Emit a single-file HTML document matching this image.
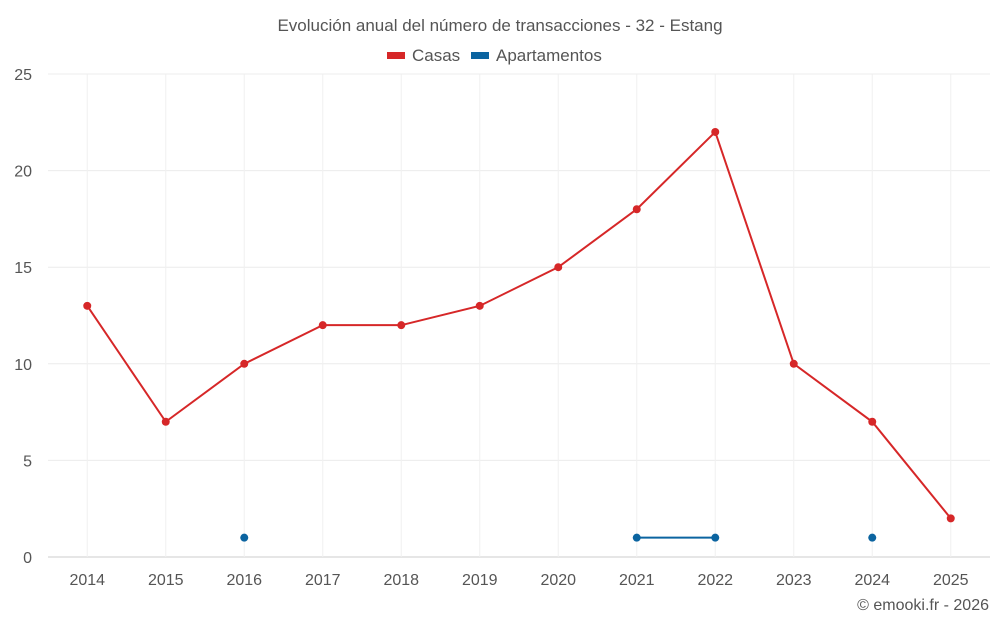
<!DOCTYPE html>
<html><head><meta charset="utf-8"><style>
html,body{margin:0;padding:0;background:#fff;}
svg text{font-family:"Liberation Sans",sans-serif;}
</style></head><body>
<svg id="chart" width="1000" height="625" viewBox="0 0 1000 625">
<text x="500" y="31" text-anchor="middle" font-size="17" fill="#555">Evolución anual del número de transacciones - 32 - Estang</text>
<g>
<g><rect x="387" y="52" width="18" height="7" fill="#d62728"/><text x="412" y="61" font-size="17" fill="#555">Casas</text></g>
<g><rect x="471" y="52" width="18" height="7" fill="#0b64a0"/><text x="496" y="61" font-size="17" fill="#555">Apartamentos</text></g>
</g>
<g id="grid"></g>
<g id="axes"></g>
<g id="series"></g>
<text x="989" y="610" text-anchor="end" font-size="16" fill="#555">© emooki.fr - 2026</text>
</svg>
<script>
const years=["2014","2015","2016","2017","2018","2019","2020","2021","2022","2023","2024","2025"];
const casas=[13,7,10,12,12,13,15,18,22,10,7,2];
const apartamentos=[null,null,1,null,null,null,null,1,1,null,1,null];
const yTicks=[0,5,10,15,20,25];
const NS="http://www.w3.org/2000/svg";
const L=48,R=990,T=74,B=557,yMax=25;
const bw=(R-L)/years.length;
function x(i){return L+bw*(i+0.5);}
function y(v){return B-(v/yMax)*(B-T);}
function mk(tag,attrs,parent){const e=document.createElementNS(NS,tag);for(const k in attrs)e.setAttribute(k,attrs[k]);parent.appendChild(e);return e;}
const grid=document.getElementById('grid'),axes=document.getElementById('axes'),ser=document.getElementById('series');
yTicks.forEach(t=>{
 const l=mk('line',{x1:L,x2:R,y1:y(t),y2:y(t),stroke:t===0?'#ccc':'#ececec','stroke-width':1},grid);
 
 
 const tx=mk('text',{x:32,y:y(t)+6,'text-anchor':'end','font-size':16,fill:'#555'},axes);
 tx.textContent=t;
 
 
});
years.forEach((yr,i)=>{
 const l=mk('line',{x1:x(i),x2:x(i),y1:T,y2:B,stroke:'#f0f0f0','stroke-width':1},grid);
 
 
 const tx=mk('text',{x:x(i),y:585,'text-anchor':'middle','font-size':16,fill:'#555'},axes);
 tx.textContent=yr;
 
 
});
function draw(data,color,name){
 let seg=[];
 const segs=[];
 data.forEach((v,i)=>{if(v==null){if(seg.length)segs.push(seg);seg=[];}else seg.push([x(i),y(v)]);});
 if(seg.length)segs.push(seg);
 segs.forEach(s=>{if(s.length>1){
  const p=mk('polyline',{points:s.map(q=>q.join(',')).join(' '),fill:'none',stroke:color,'stroke-width':2},ser);
  
  
 }});
 data.forEach((v,i)=>{if(v==null)return;
  const c=mk('circle',{cx:x(i),cy:y(v),r:4,fill:color},ser);
  
  
 });
}
draw(casas,'#d62728','casas');
draw(apartamentos,'#0b64a0','apartamentos');
</script>
</body></html>
